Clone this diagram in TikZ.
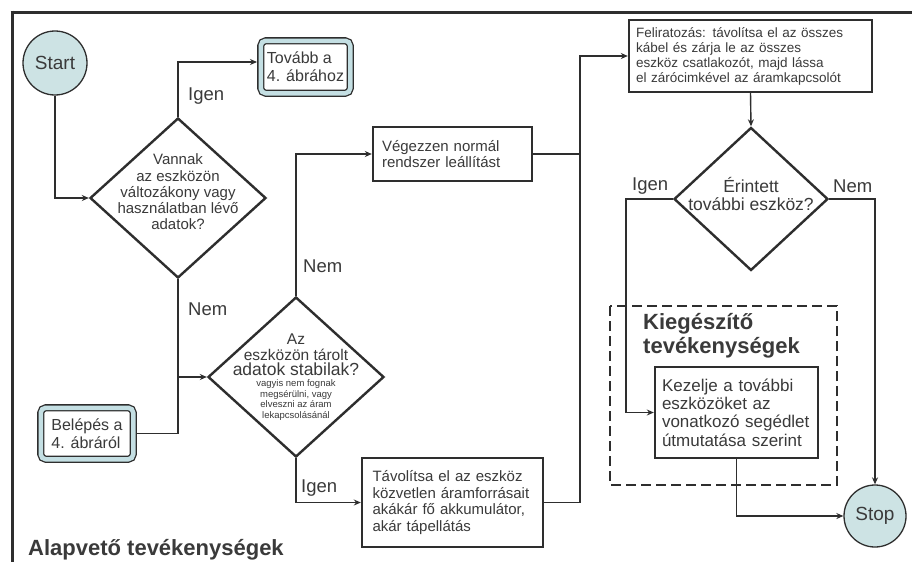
\documentclass[tikz,border=0pt]{standalone}
\usepackage{fontspec}
\setmainfont{Liberation Sans}
\usetikzlibrary{shapes.geometric,arrows.meta,calc}
\definecolor{ln}{HTML}{2E2E2E}
\definecolor{tx}{HTML}{3A3A3A}
\definecolor{cfill}{HTML}{CDE3E4}
\definecolor{bfill}{HTML}{C4DFE3}
\newcommand{\myfs}[2]{\fontsize{#1}{#2}\selectfont}
\begin{document}
\begin{tikzpicture}[x=1pt,y=-1pt,
  every node/.style={text=tx},
  conn/.style={draw=ln, line width=1.4pt},
  arr/.style={conn,-{Stealth[length=7pt,width=6pt]}},
  term/.style={circle, draw=ln, line width=1.3pt, fill=cfill, inner sep=0pt},
  procbox/.style={rectangle, draw=ln, line width=2.4pt, fill=white, align=left, inner ysep=0pt},
  exitbox/.style={rectangle, rounded corners=5pt, draw=ln, line width=1.3pt, double=bfill, double distance=4.5pt, fill=white, align=left, inner sep=0pt, outer sep=3.75pt},
  dia/.style={diamond, draw=ln, line width=2.4pt, fill=white, inner sep=0pt},
  lbl/.style={anchor=base west, font=\myfs{18.5}{20}, inner sep=0pt},
  ttl/.style={font=\bfseries\myfs{22}{24.5}, inner sep=0pt, align=left},
]
\useasboundingbox (0,0) rectangle (912,562);
\fill[white] (0,0) rectangle (912,562);

% frame
\draw[ln, line width=3pt] (10.5,12) -- (912,12);
\draw[ln, line width=3pt] (12,10.5) -- (12,562);

% dashed group
\draw[ln, line width=2.6pt, dash pattern=on 10pt off 5pt] (610,306) rectangle (837,485);

% nodes
\node[term, minimum size=64pt, font=\myfs{19}{20}] (start) at (55,63) {Start};
\node[exitbox, minimum width=89.5pt, minimum height=52.5pt, font=\myfs{16}{18}] (ex1) at (305.5,67) {Tovább a\\4. ábrához};

\node[dia, minimum width=176pt, minimum height=160pt] (d1) at (178,198) {};
\node[align=center, font=\myfs{15}{16.3}, inner sep=0pt] (d1t) at (178,192) {Vannak\\az eszközön\\változákony vagy\\használatban lévő\\adatok?};

\node[exitbox, minimum width=92.5pt, minimum height=51.5pt, font=\myfs{16}{18}] (ent) at (87,433.5) {Belépés a\\4. ábráról};

\node[dia, minimum width=176pt, minimum height=160pt] (d2) at (296,377) {};
\node[align=center, font=\myfs{15.5}{15.5}, inner sep=0pt] (d2t) at (296,355) {Az\\eszközön tárolt\\\myfs{17.5}{15.5}adatok stabilak?};
\node[align=center, font=\myfs{9.5}{10.4}, inner sep=0pt] (d2s) at (296,400) {vagyis nem fognak\\megsérülni, vagy\\elveszni az áram\\lekapcsolásánál};

\node[procbox, text width=141pt, inner xsep=9pt, minimum height=54pt, font=\myfs{15}{16.5}] (veg) at (452.5,154) {Végezzen normál\\rendszer leállítást};
\node[procbox, text width=160pt, inner xsep=10.5pt, minimum height=89pt, font=\myfs{15}{16.7}] (tav) at (452.5,502.5) {Távolítsa el az eszköz\\közvetlen áramforrásait\\akákár fő akkumulátor,\\akár tápellátás};
\node[procbox, text width=229pt, inner xsep=7pt, minimum height=72pt, font=\myfs{13.5}{15}] (fel) at (750.5,56) {Feliratozás: távolítsa el az összes\\kábel és zárja le az összes\\eszköz csatlakozót, majd lássa\\el zárócimkével az áramkapcsolót};

\node[dia, minimum width=154pt, minimum height=143pt] (d3) at (751,199) {};
\node[align=center, font=\myfs{17.5}{18.5}, inner sep=0pt] (d3t) at (751,194) {Érintett\\további eszköz?};

\node[procbox, text width=149pt, inner xsep=7pt, minimum height=91pt, font=\myfs{17}{18.3}] (kez) at (736.5,412.5) {Kezelje a további\\eszközöket az\\vonatkozó segédlet\\útmutatása szerint};

\node[term, minimum size=62pt, font=\myfs{19}{20}] (stop) at (875,516) {Stop};

% titles
\node[ttl, anchor=base west] (t1) at (28,555) {Alapvető tevékenységek};
\node[ttl, anchor=north west] (t2) at (643,313) {Kiegészítő\\tevékenységek};

% labels
\node[lbl] (l1) at (188,100) {Igen};
\node[lbl] (l2) at (188,315) {Nem};
\node[lbl] (l3) at (303,272) {Nem};
\node[lbl] (l4) at (301,492) {Igen};
\node[lbl] (l5) at (632,190) {Igen};
\node[lbl] (l6) at (833,192) {Nem};

% connectors
\draw[arr] (start.south) |- (d1.west);
\draw[arr] (d1.north) |- ([yshift=5pt]ex1.west);
\coordinate (j1) at (d1.south |- d2.west);
\draw[arr] (d1.south) -- (j1) -- (d2.west);
\draw[conn] (ent.east) -| (j1);
\draw[arr] (d2.north) |- (veg.west);
\draw[arr] (d2.south) |- (tav.west);
\coordinate (bus) at (580,56);
\draw[conn] (veg.east) -| (bus);
\draw[arr] (tav.east) -| (bus) -- (fel.west);
\draw[arr] (fel.south) -- (d3.north);
\draw[arr] (d3.west) -- ++(-47,0) |- (kez.west);
\draw[arr] (d3.east) -| (stop.north);
\draw[arr] (kez.south) |- (stop.west);
\end{tikzpicture}
\end{document}
